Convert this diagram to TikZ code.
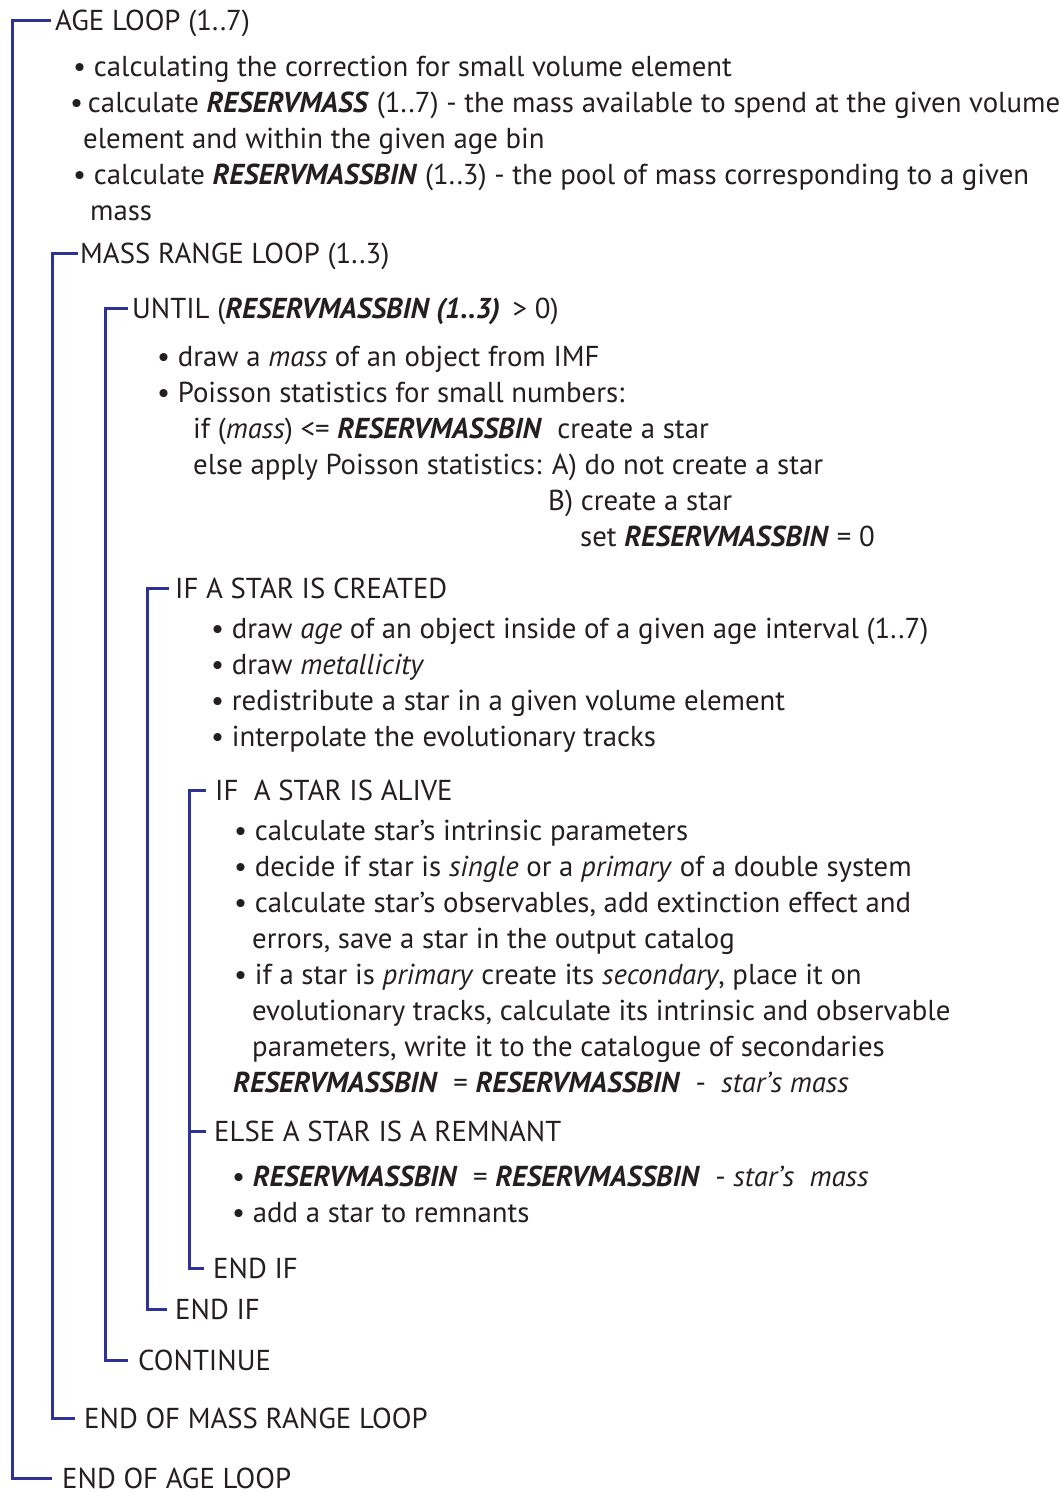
\documentclass[tikz,border=0pt]{standalone}
\usepackage{fontspec}
\setmainfont{PT Sans}
\usepackage{xcolor}
\usepackage{tikz}
\usetikzlibrary{positioning,calc}

\definecolor{brkblue}{RGB}{44,50,150}
\definecolor{ink}{RGB}{35,31,32}
\newcommand{\kw}[1]{\textbf{\textit{#1}}}

\begin{document}
\begin{tikzpicture}[
  x=1pt, y=-1pt,
  font=\fontsize{28.8}{36}\selectfont,
  line/.style ={anchor=base west, inner sep=0pt, text=ink},
  brk/.style  ={draw=brkblue, line width=3pt},
]
\useasboundingbox (0,0) rectangle (1060,1492);

% ---------- spines ----------
\coordinate (sAge)  at (12,0);
\coordinate (sMass) at (52,0);
\coordinate (sUnt)  at (105,0);
\coordinate (sCre)  at (147,0);
\coordinate (sAlv)  at (189,0);

% ---------- AGE LOOP ----------
\node[line] (agehead) at (55,30)  {AGE LOOP (1..7)};
\node[line] (ageA)    at (73,76)  {\textbullet\ calculating the correction for small volume element};
\node[line] (ageB)    at (70,112) {\textbullet\,calculate \kw{RESERVMASS} (1..7) - the mass available to spend at the given volume};
\node[line] (ageB2)   at (83,148) {element and within the given age bin};
\node[line] (ageC)    at (73,184) {\textbullet\ calculate \kw{RESERVMASSBIN} (1..3) - the pool of mass corresponding to a given};
\node[line] (ageC2)   at (90,220) {mass};

% ---------- MASS RANGE LOOP ----------
\node[line] (masshead) at (80,263) {MASS RANGE LOOP (1..3)};

% ---------- UNTIL ----------
\node[line] (unthead) at (132,318) {UNTIL (\kw{RESERVMASSBIN (1..3)}\, > 0)};
\node[line] (untA)    at (157,366) {\textbullet\ draw a \textit{mass} of an object from IMF};
\node[line] (untB)    at (157,402) {\textbullet\ Poisson statistics for small numbers:};
\node[line] (untB2)   at (193,438) {if (\textit{mass}) <= \kw{RESERVMASSBIN}\ \ create a star};
\node[line] (untB3)   at (193,474) {else apply Poisson statistics: A) do not create a star};
\node[line] (untB4)   at (548,510) {B) create a star};
\node[line] (untB5)   at (580,546) {set \kw{RESERVMASSBIN} = 0};

% ---------- IF A STAR IS CREATED ----------
\node[line] (crehead) at (175,598) {IF A STAR IS CREATED};
\node[line] (creA)    at (211,638) {\textbullet\ draw \textit{age} of an object inside of a given age interval (1..7)};
\node[line] (creB)    at (211,674) {\textbullet\ draw \textit{metallicity}};
\node[line] (creC)    at (211,710) {\textbullet\ redistribute a star in a given volume element};
\node[line] (creD)    at (211,746) {\textbullet\ interpolate the evolutionary tracks};

% ---------- IF A STAR IS ALIVE ----------
\node[line] (alvhead) at (215,800)  {IF\ \ A STAR IS ALIVE};
\node[line] (alvA)    at (234,840)  {\textbullet\ calculate star’s intrinsic parameters};
\node[line] (alvB)    at (234,876)  {\textbullet\ decide if star is \textit{single} or a \textit{primary} of a double system};
\node[line] (alvC)    at (234,912)  {\textbullet\ calculate star’s observables, add extinction effect and};
\node[line] (alvC2)   at (252,948)  {errors, save a star in the output catalog};
\node[line] (alvD)    at (234,984)  {\textbullet\ if a star is \textit{primary} create its \textit{secondary}, place it on};
\node[line] (alvD2)   at (252,1020) {evolutionary tracks, calculate its intrinsic and observable};
\node[line] (alvD3)   at (252,1056) {parameters, write it to the catalogue of secondaries};
\node[line] (alvE)    at (233,1092) {\kw{RESERVMASSBIN}\ \ = \kw{RESERVMASSBIN}\ \ -\ \ \textit{star’s mass}};

% ---------- ELSE ----------
\node[line] (elshead) at (214,1141) {ELSE A STAR IS A REMNANT};
\node[line] (elsA)    at (232,1186) {\textbullet\ \kw{RESERVMASSBIN}\ \ = \kw{RESERVMASSBIN}\ \ - \textit{star’s\ \ mass}};
\node[line] (elsB)    at (232,1222) {\textbullet\ add a star to remnants};

% ---------- closing lines ----------
\node[line] (alvend)  at (213,1278) {END IF};
\node[line] (creend)  at (175,1319) {END IF};
\node[line] (untend)  at (138,1370) {CONTINUE};
\node[line] (massend) at (84,1428)  {END OF MASS RANGE LOOP};
\node[line] (ageend)  at (62,1488)  {END OF AGE LOOP};

% ---------- brackets ----------
\draw[brk] ([xshift=-4pt,yshift=10pt]agehead.base west)  -| ([yshift=10pt]sAge |- ageend.base west)   -- ([xshift=-10pt,yshift=10pt]ageend.base west);
\draw[brk] ([xshift=-2pt,yshift=10pt]masshead.base west) -| ([yshift=10pt]sMass |- massend.base west) -- ([xshift=-9pt,yshift=10pt]massend.base west);
\draw[brk] ([xshift=-4pt,yshift=10pt]unthead.base west)  -| ([yshift=10pt]sUnt |- untend.base west)   -- ([xshift=-10pt,yshift=10pt]untend.base west);
\draw[brk] ([xshift=-6pt,yshift=10pt]crehead.base west)  -| ([yshift=10pt]sCre |- creend.base west)   -- ([xshift=-8pt,yshift=10pt]creend.base west);
\draw[brk] ([xshift=-9pt,yshift=10pt]alvhead.base west)  -| ([yshift=10pt]sAlv |- alvend.base west)   -- ([xshift=-9pt,yshift=10pt]alvend.base west);
\draw[brk] ([yshift=10pt]sAlv |- elshead.base west) -- ([xshift=-8pt,yshift=10pt]elshead.base west);

\end{tikzpicture}
\end{document}
